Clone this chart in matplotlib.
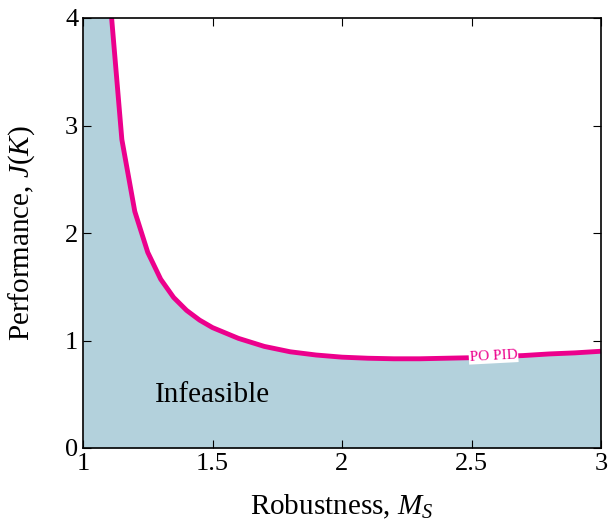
import matplotlib
matplotlib.use("Agg")
import matplotlib.pyplot as plt
import numpy as np

# Pareto-optimal PID front
ms = [1.10, 1.15, 1.20, 1.25, 1.30, 1.35, 1.40, 1.45, 1.50, 1.60, 1.70,
      1.80, 1.90, 2.00, 2.10, 2.20, 2.30, 2.40, 2.50, 2.60, 2.70, 2.80, 2.90, 3.00]
perf = [4.30, 2.87, 2.20, 1.82, 1.57, 1.40, 1.28, 1.19, 1.12, 1.02, 0.945,
        0.895, 0.865, 0.845, 0.835, 0.83, 0.83, 0.835, 0.84, 0.85, 0.86, 0.875, 0.885, 0.90]
xticks = [1, 1.5, 2, 2.5, 3]
xticklabels = ['1', '1.5', '2', '2.5', '3']
yticks = [0, 1, 2, 3, 4]

plt.rcParams['font.family'] = ['Liberation Serif', 'DejaVu Serif']
plt.rcParams['mathtext.fontset'] = 'custom'
plt.rcParams['mathtext.rm'] = 'Liberation Serif'
plt.rcParams['mathtext.it'] = 'Liberation Serif:italic'

fig = plt.figure(figsize=(6.09, 5.25), dpi=100)
ax = fig.add_axes([83 / 609, 1 - 448 / 525, 518 / 609, 430 / 525])

fill_x = np.concatenate([[1.0], ms])
fill_y = np.concatenate([[perf[0]], perf])
ax.fill_between(fill_x, 0, fill_y, color='#b3d1dc', lw=0)
ax.plot(ms, perf, color='#ec008c', lw=3.5, solid_capstyle='butt')

ax.text(2.585, 0.855, 'PO PID', color='#ec008c', fontsize=11, rotation=3,
        ha='center', va='center',
        bbox=dict(facecolor='white', edgecolor='none', pad=0.5))
ax.text(1.5, 0.49, 'Infeasible', fontsize=21, ha='center', va='center')

ax.set_xlim(1, 3)
ax.set_ylim(0, 4)
ax.set_xticks(xticks)
ax.set_xticklabels(xticklabels)
ax.set_yticks(yticks)
ax.tick_params(direction='in', top=True, right=True, labelsize=19, length=6, width=0.8)
for s in ax.spines.values():
    s.set_linewidth(1.2)
ax.set_xlabel('Robustness, $M_S$', fontsize=21, labelpad=13)
ax.set_ylabel('Performance, $J(K)$', fontsize=21, labelpad=20)

fig.savefig('out.png', dpi=100)
